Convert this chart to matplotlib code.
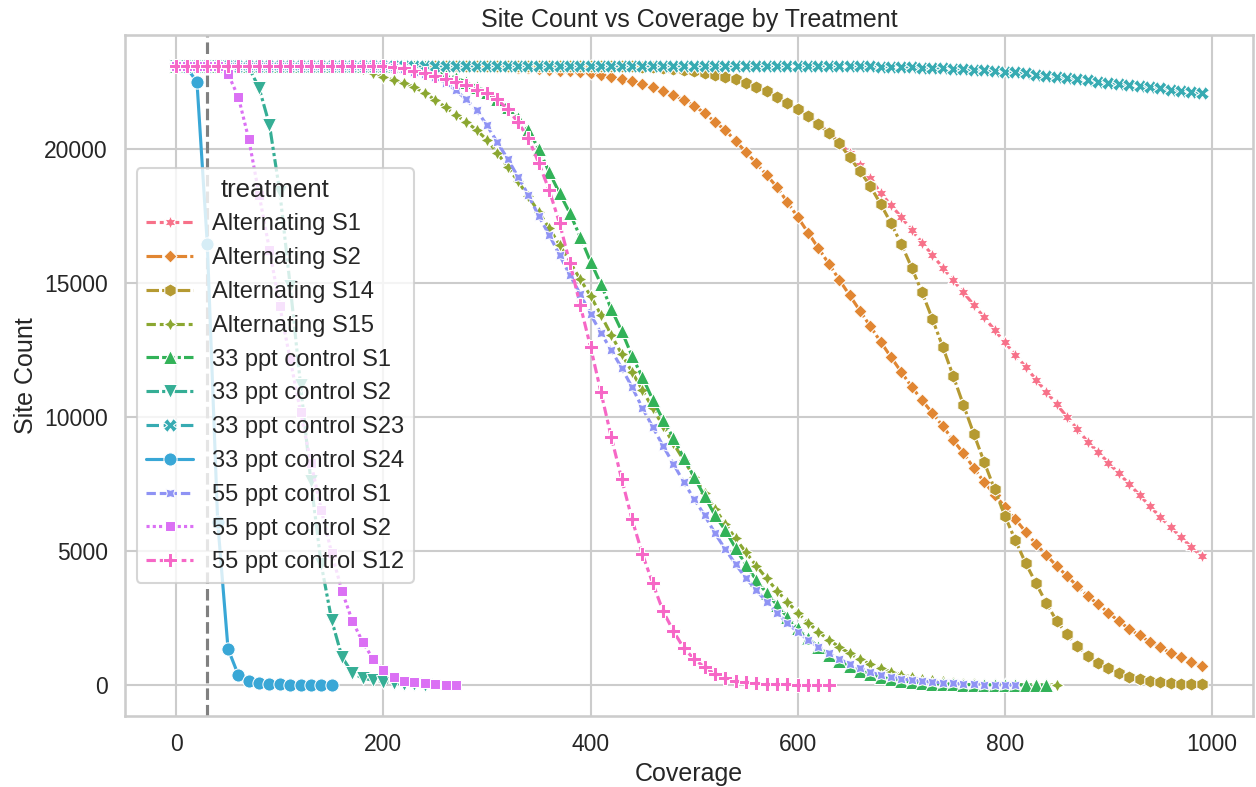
import matplotlib
matplotlib.use("Agg")
import matplotlib.pyplot as plt
import seaborn as sns

sns.set_theme(style="whitegrid", context="talk")
plt.rcParams["font.family"] = ["Liberation Sans", "DejaVu Sans"]

# coverage thresholds (every 10x)
coverage = list(range(0, 1000, 10))

treatments = [
    "Alternating S1", "Alternating S2", "Alternating S14", "Alternating S15",
    "33 ppt control S1", "33 ppt control S2", "33 ppt control S23",
    "33 ppt control S24", "55 ppt control S1", "55 ppt control S2",
    "55 ppt control S12",
]

alt_s1 = [23100] * 45 + [
    23080, 23050, 23020, 22990, 22950, 22900, 22850, 22780, 22700, 22600,
    22480, 22330, 22150, 21930, 21720, 21500, 21250, 20950, 20620, 20250,
    19850, 19420, 18920, 18360, 17910, 17460, 16980, 16510, 16040, 15580,
    15110, 14650, 14180, 13720, 13250, 12790, 12330, 11870, 11400, 10940,
    10480, 10000, 9550, 9070, 8700, 8290, 7900, 7500, 7090, 6680,
    6270, 5900, 5520, 5150, 4810,
]
alt_s2 = [23100] * 30 + [
    23090, 23080, 23060, 23040, 23010, 22990, 22960, 22930, 22900, 22870,
    22830, 22770, 22700, 22620, 22530, 22430, 22310, 22170, 22010, 21830,
    21620, 21340, 21010, 20710, 20300, 19890, 19470, 19030, 18580, 18020,
    17460, 16880, 16300, 15720, 15130, 14550, 13970, 13390, 12810, 12240,
    11680, 11130, 10630, 10150, 9660, 9140, 8650, 8100, 7570, 7110,
    6650, 6190, 5720, 5260, 4850, 4440, 4070, 3690, 3320, 3020,
    2690, 2390, 2090, 1870, 1600, 1420, 1190, 1040, 860, 710,
]
alt_s14 = [23100] * 45 + [
    23080, 23050, 23020, 22990, 22950, 22900, 22850, 22780, 22700, 22600,
    22480, 22330, 22150, 21930, 21720, 21490, 21230, 20930, 20600, 20220,
    19700, 19180, 18620, 17950, 17240, 16450, 15580, 14650, 13660, 12620,
    11540, 10450, 9370, 8320, 7310, 6310, 5410, 4550, 3800, 3060,
    2390, 1900, 1460, 1080, 820, 630, 450, 300, 220, 150,
    100, 70, 50, 35, 25,
]
alt_s15 = [23100] * 18 + [
    23000, 22850, 22690, 22570, 22460, 22310, 22090, 21830, 21560, 21270,
    21010, 20710, 20340, 19850, 19330, 18790, 18230, 17650, 17050, 16430,
    15790, 15140, 14520, 13810, 13060, 12350, 11690, 11010, 10330, 9665,
    9015, 8385, 7770, 7170, 6585, 6020, 5470, 4950, 4450, 3980,
    3520, 3100, 2700, 2330, 1990, 1680, 1430, 1180, 960, 780,
    620, 500, 390, 300, 230, 175, 135, 105, 80, 60,
    45, 35, 25, 20, 15, 10, 7, 5,
]
c33_s1 = [23100] * 25 + [
    22900, 22780, 22650, 22500, 22330, 22130, 21880, 21560, 21170, 20700,
    20000, 19140, 18360, 17610, 16720, 15800, 14960, 14030, 13210, 12280,
    11490, 10650, 9890, 9220, 8470, 7760, 7050, 6340, 5780, 5110,
    4480, 3920, 3430, 2990, 2540, 2120, 1750, 1420, 1140, 900,
    700, 540, 410, 300, 220, 160, 110, 80, 55, 40,
    30, 20, 15, 10, 8, 6, 4, 3, 2, 1,
]
c33_s2 = [23100] * 7 + [
    23050, 22280, 20900, 18390, 14900, 11200, 7600, 4500, 2430, 1050,
    450, 260, 180, 130, 80, 50, 30, 20,
]
c33_s23 = [23100] * 66 + [
    23095, 23090, 23080, 23070, 23060, 23050, 23040, 23030, 23010, 23000,
    22980, 22960, 22940, 22920, 22890, 22860, 22820, 22780, 22740, 22700,
    22660, 22610, 22570, 22520, 22480, 22440, 22390, 22350, 22300, 22260,
    22210, 22170, 22120, 22080,
]
c33_s24 = [
    23100, 23050, 22500, 16450, 6100, 1350, 370, 150, 80, 50,
    30, 20, 15, 10, 8, 5,
]
c55_s1 = [23100] * 21 + [
    23050, 22980, 22880, 22800, 22680, 22480, 22190, 21850, 21450, 20880,
    20250, 19630, 18960, 18280, 17500, 16800, 16050, 15300, 14590, 13840,
    13130, 12500, 11830, 11120, 10340, 9630, 8920, 8250, 7570, 6940,
    6340, 5670, 5070, 4510, 3990, 3540, 3100, 2690, 2310, 1980,
    1680, 1420, 1190, 970, 790, 630, 490, 370, 300, 230,
    180, 140, 110, 80, 60, 45, 30, 20, 15, 10,
    5,
]
c55_s2 = [23100] * 5 + [
    22800, 21940, 20370, 18300, 16250, 14130, 12150, 10200, 8300, 6540,
    4930, 3510, 2390, 1610, 970, 560, 300, 170, 100, 60,
    35, 20, 10,
]
c55_s12 = [23100] * 21 + [
    23080, 23020, 22930, 22850, 22720, 22610, 22500, 22380, 22220, 22080,
    21850, 21480, 21000, 20400, 19480, 18470, 17240, 15750, 14180, 12610,
    10930, 9250, 7690, 6190, 4890, 3800, 2760, 2010, 1380, 970,
    670, 410, 260, 150, 100, 70, 50, 40, 30, 20,
    15, 10, 5,
]

site_counts = [alt_s1, alt_s2, alt_s14, alt_s15, c33_s1, c33_s2, c33_s23,
               c33_s24, c55_s1, c55_s2, c55_s12]

# matplotlib polygons: (4, 0, 0) is a diamond, (4, 0, 45) a square
markers = [(6, 1, 0), (4, 0, 0), (6, 0, 0), (4, 1, 0), "^", "v", "X",
           "o", (4, 1, 45), (4, 0, 45), "P"]
dashes = [
    (3, 1.25, 1.25, 1.25, 1.25, 1.25, 1.25, 1.25),
    (5, 1, 1, 1),
    (4, 1, 4, 1, 4, 1, 1, 1),
    (3, 1.25, 1.25, 1.25, 1.25, 1.25),
    (4, 1, 4, 1, 1, 1),
    (4, 1, 1, 1, 1, 1),
    (4, 1.5),
    None,
    (3, 1.25, 3, 1.25, 1.25, 1.25),
    (1, 1),
    (3, 1.25, 1.5, 1.25),
]
colors = sns.color_palette("husl", len(treatments))

fig, ax = plt.subplots(figsize=(12.56, 7.87), dpi=100)
ax.axvline(30, color="gray", linestyle="--")

for name, counts, mk, ds, col in zip(treatments, site_counts, markers, dashes, colors):
    line, = ax.plot(coverage[:len(counts)], counts, color=col, marker=mk,
                    markersize=9.5, markeredgecolor="w", markeredgewidth=0.75,
                    label=name)
    if ds is not None:
        line.set_dashes(ds)

ax.set_title("Site Count vs Coverage by Treatment")
ax.set_xlabel("Coverage")
ax.set_ylabel("Site Count")
ax.legend(title="treatment", loc="center left", fontsize=17, title_fontsize=18.5)

fig.subplots_adjust(left=0.0995, right=0.9976, bottom=0.0902, top=0.9555)
fig.savefig("out.png", dpi=100)
